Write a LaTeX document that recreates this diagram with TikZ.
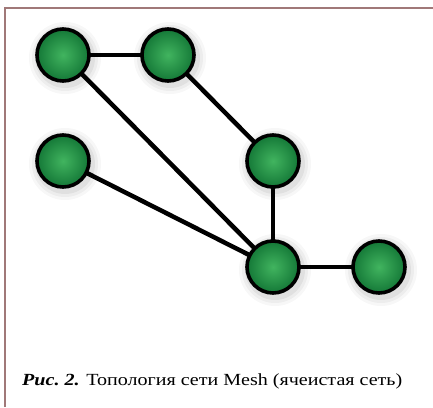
\documentclass[tikz,border=0pt]{standalone}
\usepackage{fontspec}
\setmainfont{Liberation Serif}
\newfontfamily\capfont[FakeStretch=1.18]{Liberation Serif}
\usetikzlibrary{backgrounds}
\definecolor{framecol}{RGB}{160,120,120}
\definecolor{ballin}{RGB}{65,180,95}
\definecolor{ballout}{RGB}{20,120,55}
\tikzset{
  ball/.style={circle, draw=black, line width=3.6pt, minimum size=52pt, inner sep=0pt,
    shading=radial, inner color=ballin, outer color=ballout},
  link/.style={line width=4.5pt, black},
}
\begin{document}
\begin{tikzpicture}[x=1pt,y=1pt]
\useasboundingbox (0,0) rectangle (433,407);
\node[ball] (a) at (63,352) {};
\node[ball] (b) at (168,352) {};
\node[ball] (c) at (63,246) {};
\node[ball] (d) at (273,246) {};
\node[ball] (e) at (273,140) {};
\node[ball] (f) at (379,140) {};
\begin{scope}[on background layer]
\fill[white] (0,0) rectangle (433,407);
\draw[framecol, line width=2pt] (5,0) -- (5,399) -- (433,399);
\foreach \x/\y in {63/352,168/352,63/246,273/246,273/140,379/140}{
  \foreach \r/\o in {36/0.03,33/0.04,30/0.05}{
    \fill[black, opacity=\o] (\x+2,\y-3) circle (\r);
  }
}
\draw[link] (a.center) -- (b.center);
\draw[link] (a.center) -- (e.center);
\draw[link] (b.center) -- (d.center);
\draw[link] (d.center) -- (e.center);
\draw[link] (c.center) -- (e.center);
\draw[link] (e.center) -- (f.center);
\end{scope}
\node[anchor=base west, inner sep=0pt, font=\capfont\fontsize{17}{20}\selectfont] (cap) at (22,22)
  {\textbf{\textit{Рис.~2.}} Топология сети Mesh (ячеистая сеть)};
\end{tikzpicture}
\end{document}
